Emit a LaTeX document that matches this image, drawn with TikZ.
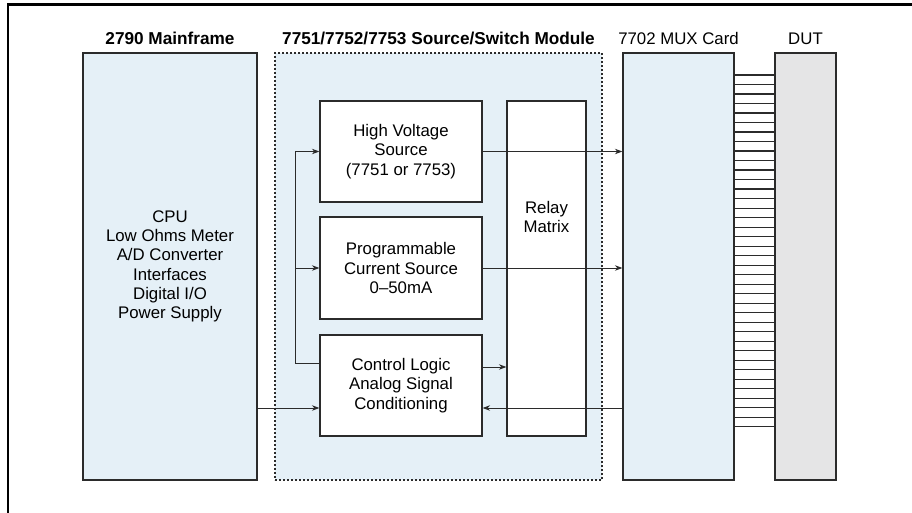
\documentclass[tikz,border=0pt]{standalone}
\usepackage{fontspec}
\setmainfont{Liberation Sans}
\usetikzlibrary{arrows.meta,calc}
\definecolor{panelblue}{HTML}{E5F0F7}
\definecolor{dutgray}{HTML}{E5E5E6}
\definecolor{edge}{HTML}{2B2B2B}
\newcommand{\boxfont}{\fontsize{16.8}{19.3}\selectfont}
\newcommand{\headfont}{\fontsize{17.2}{20}\selectfont\bfseries}

\begin{document}
\begin{tikzpicture}[x=1pt, y=-1pt,
  block/.style={draw=edge, line width=1.2pt, fill=white, inner sep=0pt, align=center, font=\boxfont},
  panel/.style={block, fill=panelblue},
  head/.style={inner sep=0pt, anchor=base, font=\headfont},
  headplain/.style={head, font=\boxfont},
  conn/.style={draw=edge, line width=1pt, -{Stealth[length=7.5pt,width=5.5pt]}},
  wire/.style={draw=edge, line width=1pt},
  rung/.style={draw=edge, line width=1.2pt}]
  \useasboundingbox (0,0) rectangle (912,513);
  \draw[line width=2.2pt] (8.3,513) -- (8.3,4.5) -- (912,4.5);

  % outer boxes
  \node[panel, minimum width=174pt, minimum height=427pt] (main) at (170,266.5)
    {CPU\\Low Ohms Meter\\A/D Converter\\Interfaces\\Digital I/O\\Power Supply};
  \node[panel, dash pattern=on 2pt off 2pt, minimum width=327pt, minimum height=427pt] (module) at (438.5,266.5) {};
  \node[panel, minimum width=111pt, minimum height=427pt] (mux) at (678.5,266.5) {};
  \node[block, fill=dutgray, minimum width=61pt, minimum height=427pt] (dut) at (805.5,266.5) {};

  % headings
  \node[head] (mainhead) at ([yshift=8pt]main.north) {2790 Mainframe};
  \node[head] (modhead) at ([yshift=8pt]module.north) {7751/7752/7753 Source/Switch Module};
  \node[headplain] (muxhead) at ([yshift=8pt]mux.north) {7702 MUX Card};
  \node[headplain] (duthead) at ([yshift=8pt]dut.north) {DUT};

  % module contents
  \node[block, minimum width=162pt, minimum height=101pt] (hv) at (401,151.5) {High Voltage\\Source\\(7751 or 7753)};
  \node[block, minimum width=162pt, minimum height=102pt] (prog) at (401,268) {Programmable\\Current Source\\0--50mA};
  \node[block, minimum width=162pt, minimum height=101pt] (ctrl) at (401,385.5) {Control Logic\\Analog Signal\\Conditioning};
  \node[block, minimum width=79pt, minimum height=335pt] (relay) at (546.5,268.5) {};
  \node[font=\boxfont, align=center, inner sep=0pt] (relaytext) at (546.5,217) {Relay\\Matrix};

  % connections
  \coordinate (bus) at (295,363);
  \draw[wire] (ctrl.west |- bus) -- (bus);
  \draw[conn] (bus) |- (hv.west);
  \draw[conn] (bus |- prog.west) -- (prog.west);
  \draw[conn] (hv.east) -- (hv.east -| mux.west);
  \draw[conn] (prog.east) -- (prog.east -| mux.west);
  \draw[conn] ([yshift=18.5pt]ctrl.east) -- ([yshift=18.5pt]ctrl.east -| relay.west);
  \draw[conn] ([yshift=-22.5pt]ctrl.west -| main.east) -- ([yshift=-22.5pt]ctrl.west);
  \draw[conn] ([yshift=-22.5pt]ctrl.east -| mux.west) -- ([yshift=-22.5pt]ctrl.east);

  % MUX to DUT lines
  \foreach \i in {0,...,37}
    \draw[rung] ([yshift={-22.7pt-\i*9.5pt}]mux.north east) -- ([yshift={-22.7pt-\i*9.5pt}]dut.north west);
\end{tikzpicture}
\end{document}
